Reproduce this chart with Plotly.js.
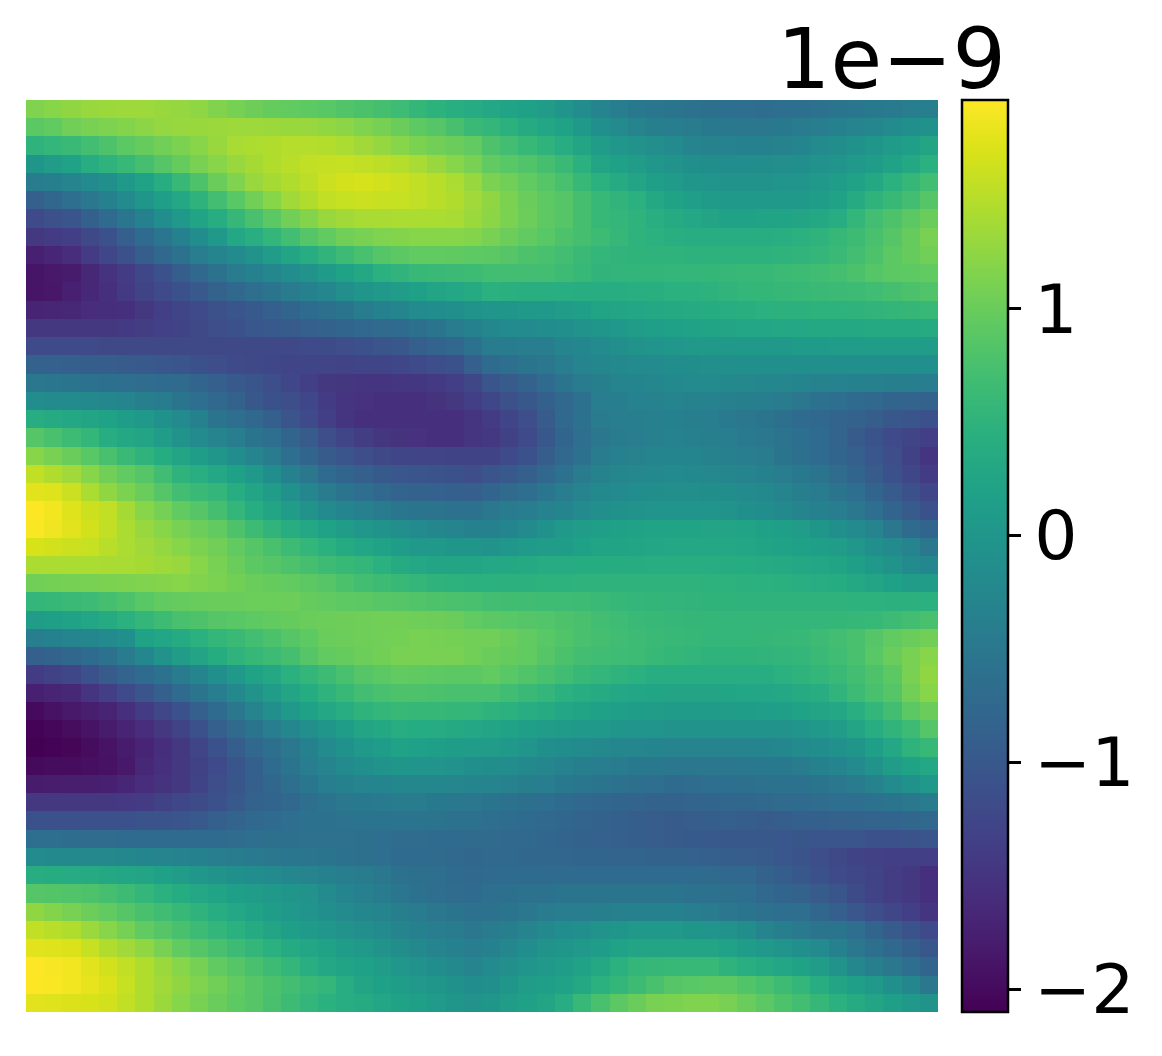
<!DOCTYPE html>
<html>
<head>
<meta charset="utf-8">
<script src="https://cdn.plot.ly/plotly-3.0.1.min.js"></script>
<style>
    html, body { margin: 0; padding: 0; background: #fff; }
</style>
</head>
<body>
<div id="plot"></div>
<script>
// colorbar ticks, values are in units of 1e-9
let tickValues = [-2, -1, 0, 1];
let tickLabels = ["\u22122", "\u22121", "0", "1"];
let offsetText = "1e\u22129";
let zMin = -2.10;
let zMax = 1.92;

// cell values, in hundredths of 1e-9, 50 rows of 50 from the top
let cellRows = [
[115,120,125,130,132,133,133,130,128,124, 116,108,103,98,95,92,88,82,78,72, 66,56,48,42,36,30,24,18,10,-2, -16,-30,-40,-48,-52,-56,-60,-62,-64,-66, -67,-66,-64,-60,-56,-52,-48,-46,-42,-38],
[90,95,105,110,113,118,122,128,130,131, 132,133,133,132,131,130,126,122,115,108, 100,92,85,74,62,55,46,35,28,20, 5,-10,-20,-30,-38,-42,-45,-48,-49,-50, -50,-48,-45,-40,-35,-30,-25,-18,-10,-8],
[50,55,62,70,80,90,98,105,112,120, 130,140,143,145,147,148,146,142,135,128, 120,112,105,100,95,80,70,60,50,40, 25,10,2,-5,-12,-20,-30,-32,-34,-35, -35,-32,-28,-20,-14,-8,0,8,15,25],
[0,10,20,40,50,60,72,85,98,110, 120,130,138,145,150,155,157,158,155,152, 148,140,130,120,110,95,88,82,72,62, 45,25,18,10,2,-5,-10,-13,-15,-15, -14,-12,-10,-6,-2,5,12,20,32,45],
[-45,-38,-30,-20,-10,5,20,40,60,80, 100,115,130,138,145,152,160,165,167,164, 160,155,150,142,130,112,105,95,85,75, 60,45,35,25,15,8,0,-3,-5,-5, -5,-4,-2,5,12,20,32,45,58,70],
[-90,-78,-65,-50,-35,-18,0,15,30,50, 70,88,105,120,135,145,155,158,160,159, 158,154,150,145,135,125,112,100,92,85, 72,60,52,45,32,20,14,8,5,5, 5,6,5,12,20,35,50,60,70,85],
[-120,-112,-105,-88,-70,-52,-35,-15,5,22, 40,58,75,90,105,118,130,136,140,141, 142,142,142,140,132,122,112,102,93,85, 72,60,55,50,42,35,30,25,20,20, 22,24,25,32,40,55,70,80,90,100],
[-145,-140,-135,-122,-110,-90,-70,-52,-35,-15, 5,30,42,55,70,85,95,105,110,115, 118,120,120,120,118,110,102,95,88,80, 72,65,58,50,45,42,40,40,40,40, 40,42,45,50,58,65,75,85,98,110],
[-175,-168,-160,-140,-125,-110,-92,-75,-58,-40, -30,-20,-5,10,25,40,52,65,75,85, 90,95,95,94,92,90,85,80,75,70, 62,55,52,51,50,50,49,49,48,48, 48,50,52,55,62,70,80,90,98,105],
[-188,-185,-180,-165,-152,-140,-125,-110,-92,-75, -60,-45,-35,-25,-15,-5,8,20,32,45, 52,60,62,64,65,70,70,70,70,65, 60,52,53,54,54,55,55,56,58,60, 60,63,65,68,72,78,85,90,92,95],
[-188,-186,-175,-165,-155,-142,-130,-120,-110,-98, -85,-75,-65,-55,-45,-35,-25,-12,0,5, 10,18,25,30,35,45,44,43,42,42, 41,40,40,42,43,45,45,48,52,55, 56,58,60,62,64,65,68,72,78,82],
[-170,-168,-165,-160,-158,-155,-145,-135,-128,-120, -112,-105,-98,-90,-80,-70,-62,-55,-45,-35, -28,-20,-15,-10,-5,-2,0,3,5,10, 15,22,25,28,30,33,35,38,40,43, 45,46,47,48,49,50,52,54,57,60],
[-145,-145,-145,-145,-145,-142,-138,-134,-130,-122, -115,-110,-102,-98,-95,-90,-85,-80,-75,-72, -70,-62,-55,-45,-35,-25,-20,-18,-15,-10, -5,0,5,10,15,18,20,22,25,27, 28,29,30,31,32,32,33,33,34,35],
[-120,-120,-121,-121,-122,-122,-122,-122,-122,-122, -122,-122,-122,-122,-122,-120,-118,-115,-110,-105, -100,-90,-82,-75,-60,-45,-44,-42,-40,-30, -25,-20,-12,-5,-2,2,3,4,5,5, 5,6,8,9,10,10,10,10,10,10],
[-85,-87,-90,-92,-93,-95,-98,-102,-105,-110, -115,-120,-122,-125,-128,-128,-129,-130,-128,-127, -125,-120,-115,-110,-90,-70,-65,-55,-50,-40, -30,-25,-22,-20,-18,-15,-13,-12,-11,-10, -10,-10,-10,-10,-10,-10,-10,-10,-10,-10],
[-50,-52,-55,-58,-62,-65,-68,-70,-72,-80, -90,-98,-105,-115,-125,-135,-145,-148,-150,-150, -148,-146,-142,-135,-125,-105,-95,-85,-70,-55, -45,-38,-30,-28,-25,-22,-20,-20,-22,-24, -25,-27,-29,-31,-33,-35,-37,-38,-39,-40],
[-15,-18,-20,-22,-25,-30,-38,-45,-55,-65, -75,-85,-100,-110,-115,-125,-140,-150,-153,-155, -157,-156,-152,-145,-135,-125,-112,-100,-88,-75, -58,-42,-38,-34,-32,-30,-32,-34,-36,-38, -40,-45,-50,-58,-65,-70,-75,-80,-83,-85],
[40,35,30,25,20,12,5,-8,-20,-35, -55,-65,-75,-90,-105,-120,-135,-150,-155,-155, -155,-155,-155,-155,-150,-140,-128,-115,-95,-75, -60,-45,-40,-38,-36,-35,-38,-42,-46,-50, -55,-62,-70,-75,-80,-85,-92,-100,-105,-110],
[85,75,65,55,40,32,25,10,-5,-18, -30,-42,-55,-65,-80,-95,-115,-128,-138,-148, -152,-153,-155,-155,-150,-145,-132,-120,-100,-80, -65,-50,-45,-40,-36,-33,-35,-38,-42,-46, -50,-57,-63,-70,-82,-95,-108,-120,-128,-135],
[120,110,100,88,75,62,50,38,25,12, 0,-15,-30,-45,-65,-80,-95,-105,-115,-122, -127,-128,-129,-130,-130,-130,-120,-110,-92,-75, -58,-43,-36,-32,-29,-28,-29,-32,-36,-40, -45,-55,-62,-70,-80,-90,-102,-115,-132,-150],
[155,145,135,120,105,95,85,68,50,42, 30,18,5,-15,-35,-50,-70,-80,-90,-97, -102,-105,-108,-110,-115,-105,-98,-90,-73,-58, -45,-32,-26,-23,-21,-20,-21,-24,-27,-30, -35,-42,-48,-55,-68,-80,-95,-110,-125,-140],
[175,172,160,142,125,112,100,85,70,62, 55,40,25,10,-8,-25,-45,-55,-65,-75, -82,-85,-87,-88,-90,-80,-72,-65,-52,-40, -30,-22,-18,-15,-14,-12,-12,-13,-14,-18, -22,-30,-38,-45,-55,-65,-80,-95,-110,-125],
[192,185,172,162,155,138,120,108,95,85, 72,55,40,25,10,-5,-20,-28,-36,-45, -52,-55,-57,-58,-60,-50,-45,-40,-34,-28, -20,-12,-8,-5,-4,-4,-4,-4,-5,-10, -15,-22,-30,-35,-42,-50,-65,-80,-95,-110],
[190,183,175,165,155,142,130,120,110,102, 95,80,65,52,40,30,20,10,2,-5, -12,-20,-25,-30,-35,-35,-28,-20,-8,5, 10,15,18,20,22,23,24,25,25,22, 18,14,10,0,-10,-18,-30,-50,-70,-80],
[168,165,162,158,150,142,135,128,120,112, 105,95,85,75,65,55,45,35,28,20, 12,5,3,1,0,-5,2,8,10,12, 18,22,24,26,28,29,30,30,29,27, 24,21,18,15,10,2,-10,-20,-30,-50],
[142,142,142,142,141,140,138,134,130,120, 110,100,90,85,80,72,65,60,55,45, 35,30,25,25,25,30,32,34,36,37, 38,38,39,39,40,40,40,40,39,38, 35,33,30,28,22,15,5,-5,-18,-25],
[105,107,108,110,112,113,115,118,120,116, 112,106,100,98,95,90,85,78,70,65, 60,55,50,48,47,45,46,47,48,49, 50,50,50,50,50,50,50,49,48,47, 45,44,42,40,38,32,25,18,10,10],
[55,58,62,65,72,80,88,95,97,99, 100,100,101,101,102,98,95,92,90,87, 85,82,80,77,75,70,69,68,67,66, 65,62,58,55,54,53,52,51,51,50, 50,50,50,50,50,49,48,47,46,45],
[10,15,20,28,35,45,55,65,75,80, 85,88,92,95,98,100,102,103,104,105, 105,104,103,100,95,90,88,85,83,80, 75,70,66,62,60,58,57,56,55,55, 55,55,55,55,56,58,60,65,70,75],
[-40,-35,-30,-25,-18,-10,20,28,35,45, 55,62,70,78,85,92,100,102,104,105, 107,110,108,107,105,105,100,95,88,82, 75,72,68,65,62,60,58,55,55,56, 57,58,60,65,70,75,85,95,100,105],
[-90,-85,-78,-70,-58,-45,-25,-5,10,25, 38,50,58,65,72,85,95,98,102,106, 110,110,110,110,105,100,98,95,85,78, 70,68,66,65,60,56,53,50,50,51, 52,53,55,62,68,75,88,100,110,120],
[-140,-132,-125,-110,-95,-82,-70,-58,-45,-28, -10,5,20,32,45,55,65,75,85,90, 95,94,92,91,90,95,88,82,75,68, 60,55,50,45,40,40,40,40,40,40, 40,45,50,55,62,70,80,90,110,125],
[-175,-170,-165,-150,-135,-120,-105,-88,-70,-55, -40,-22,-5,10,25,38,50,60,70,75, 80,79,78,76,75,75,68,62,55,45, 40,35,30,28,26,25,25,25,26,27, 28,30,35,40,52,65,75,85,105,120],
[-200,-192,-185,-178,-170,-155,-140,-125,-110,-90, -70,-50,-30,-12,5,18,30,40,50,55, 60,59,58,56,55,50,45,40,35,28, 22,18,15,12,10,8,8,9,10,12, 13,15,20,25,30,42,55,70,90,100],
[-208,-203,-198,-190,-180,-170,-160,-145,-130,-110, -90,-72,-55,-40,-25,-12,0,12,25,32, 40,38,36,33,30,25,20,15,10,8, 5,3,0,-2,-4,-5,-5,-5,-5,-5, -5,-5,-3,3,10,25,40,52,65,85],
[-210,-208,-205,-198,-190,-180,-170,-158,-145,-128, -110,-92,-75,-62,-50,-35,-20,-8,5,12, 20,17,15,12,10,10,4,-4,-10,-15, -20,-22,-25,-27,-29,-30,-30,-30,-30,-30, -28,-25,-20,-15,-8,0,15,30,50,60],
[-200,-198,-197,-195,-192,-185,-165,-155,-145,-132, -120,-105,-88,-70,-55,-42,-30,-20,-10,-5, 0,-2,-4,-6,-10,-13,-17,-22,-27,-33, -38,-42,-45,-47,-49,-50,-50,-50,-50,-49, -48,-47,-45,-35,-28,-20,-5,10,20,30],
[-180,-179,-178,-177,-175,-168,-160,-152,-145,-130, -115,-103,-90,-78,-65,-52,-40,-35,-30,-28, -25,-25,-25,-26,-28,-30,-33,-38,-42,-47, -52,-55,-58,-62,-66,-70,-68,-66,-64,-62, -60,-60,-58,-55,-50,-45,-32,-20,-8,5],
[-145,-145,-145,-145,-145,-143,-140,-132,-125,-118, -110,-98,-85,-80,-75,-65,-55,-50,-47,-46, -45,-45,-47,-49,-50,-55,-58,-62,-66,-70, -75,-78,-80,-82,-84,-85,-83,-80,-78,-77, -75,-72,-70,-68,-66,-65,-60,-55,-50,-45],
[-110,-110,-110,-110,-110,-110,-108,-106,-105,-98, -90,-82,-75,-70,-65,-60,-58,-57,-56,-55, -55,-56,-57,-58,-60,-65,-67,-70,-75,-78, -82,-85,-88,-91,-93,-95,-93,-92,-90,-92, -95,-92,-90,-88,-86,-85,-82,-80,-78,-75],
[-65,-66,-67,-68,-69,-70,-70,-70,-70,-70, -70,-68,-65,-62,-62,-61,-61,-61,-62,-65, -68,-69,-70,-71,-72,-72,-74,-76,-78,-80, -84,-87,-89,-91,-93,-95,-97,-98,-100,-100, -100,-102,-103,-105,-105,-105,-110,-110,-108,-105],
[-20,-21,-22,-23,-24,-25,-28,-30,-33,-35, -40,-43,-46,-50,-52,-53,-55,-60,-62,-65, -70,-71,-72,-75,-78,-76,-76,-77,-78,-79, -80,-81,-82,-83,-84,-85,-87,-89,-91,-93, -95,-102,-108,-115,-122,-130,-133,-135,-135,-135],
[40,38,36,35,32,28,25,18,10,2, -5,-10,-15,-20,-25,-30,-35,-40,-45,-50, -60,-62,-65,-70,-75,-70,-70,-70,-70,-70, -70,-70,-70,-70,-70,-70,-71,-72,-73,-75, -85,-92,-100,-110,-120,-125,-130,-138,-145,-155],
[85,84,82,80,72,65,55,45,38,30, 22,15,10,5,0,-5,-20,-28,-36,-45, -52,-58,-65,-68,-70,-65,-62,-60,-58,-56, -55,-55,-55,-55,-55,-55,-58,-60,-62,-65, -75,-80,-85,-95,-105,-118,-130,-138,-145,-155],
[125,118,110,102,95,85,75,68,60,50, 40,30,20,12,5,-2,-10,-18,-25,-30, -38,-45,-50,-55,-60,-60,-55,-50,-45,-42, -40,-38,-36,-35,-35,-35,-40,-45,-50,-55, -60,-65,-65,-78,-90,-102,-115,-125,-135,-150],
[155,150,145,132,120,108,95,85,75,65, 55,45,35,25,15,8,2,-5,-12,-20, -30,-35,-40,-45,-50,-45,-38,-30,-22,-15, -10,-5,0,3,5,3,0,-2,-5,-14, -30,-38,-46,-55,-55,-65,-80,-95,-108,-120],
[175,172,170,158,145,135,125,110,95,85, 75,65,55,45,35,28,20,12,4,-5, -14,-22,-30,-35,-40,-35,-25,-15,-5,0, 5,12,20,25,25,25,25,25,20,12, 5,-3,-10,-20,-35,-50,-62,-75,-88,-100],
[192,188,185,175,165,155,145,132,120,108, 95,85,75,65,55,42,30,24,18,10, 2,-6,-15,-22,-30,-20,-12,-4,5,12, 20,32,45,55,58,60,60,60,50,42, 35,28,20,10,-5,-25,-38,-50,-65,-80],
[192,190,185,178,170,158,145,135,125,115, 105,95,85,78,70,62,55,40,25,18, 12,5,0,-8,-15,-10,0,10,15,20, 32,45,55,65,75,85,88,90,90,82, 75,65,55,40,25,15,5,-10,-25,-50],
[175,172,170,168,165,155,145,132,120,110, 100,92,85,75,65,55,45,40,35,28, 20,14,8,0,-5,0,10,18,25,40, 60,75,90,100,110,112,115,115,110,100, 90,80,70,58,45,35,25,15,5,-5]
];

// scale the stored values back to the colorbar units
let zValues = cellRows.map(row => row.map(value => value / 100));

let trace = {
    z: zValues,
    type: "heatmap",
    colorscale: "Viridis",
    zmin: zMin,
    zmax: zMax,
    colorbar: {
        thickness: 46,
        thicknessmode: "pixels",
        len: 1,
        lenmode: "fraction",
        x: 1.0263,
        xanchor: "left",
        xpad: 0,
        y: 0.5,
        yanchor: "middle",
        ypad: 0,
        outlinecolor: "#000",
        outlinewidth: 2.5,
        ticks: "outside",
        ticklen: 12,
        tickwidth: 2.5,
        tickcolor: "#000",
        tickmode: "array",
        tickvals: tickValues,
        ticktext: tickLabels,
        tickfont: {family: "DejaVu Sans", size: 68, color: "#000"}
    }
};

let layout = {
    width: 1162,
    height: 1056,
    margin: {l: 26, r: 224, t: 100, b: 44},
    paper_bgcolor: "#fff",
    plot_bgcolor: "#fff",
    xaxis: {visible: false, range: [-0.5, 49.5]},
    yaxis: {visible: false, range: [49.5, -0.5]},
    // the offset text sitting over the colorbar
    annotations: [{
        text: offsetText,
        xref: "paper",
        yref: "paper",
        x: 1.0765,
        y: 1.0,
        xanchor: "right",
        yanchor: "bottom",
        showarrow: false,
        yshift: -10,
        font: {family: "DejaVu Sans", size: 84, color: "#000"}
    }]
};

Plotly.newPlot("plot", [trace], layout, {displayModeBar: false, staticPlot: true});
</script>
</body>
</html>
